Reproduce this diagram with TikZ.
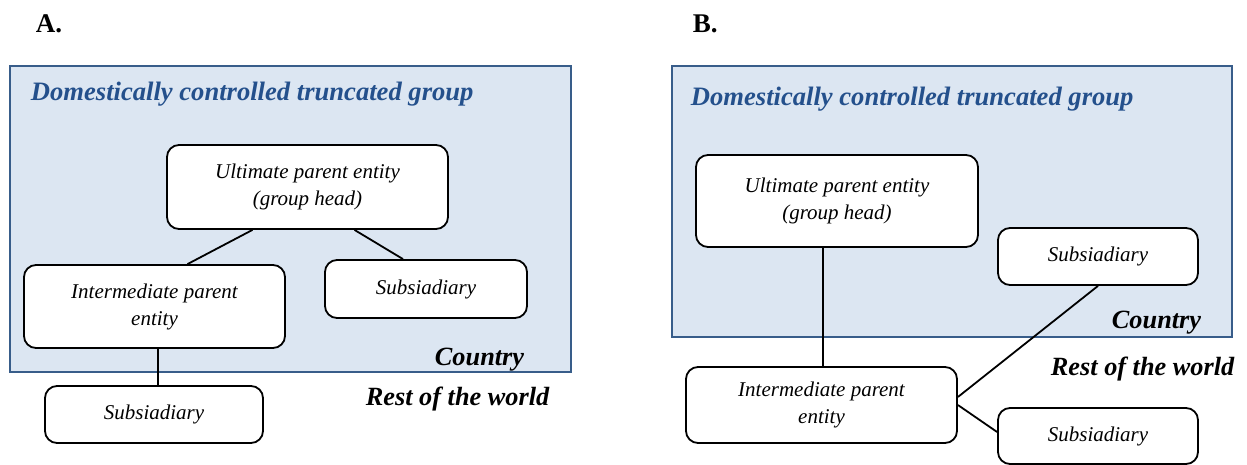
\documentclass[tikz,border=0pt]{standalone}
\usepackage{fontspec}
\setmainfont{Liberation Serif}
\usepackage{xcolor}
\usepackage{tikz}

\definecolor{areafill}{HTML}{DCE6F2}
\definecolor{areadraw}{HTML}{385D8A}
\definecolor{areatext}{HTML}{24508C}

\begin{document}
\begin{tikzpicture}[x=1pt, y=-1pt, line width=1.8pt,
    entity/.style = {draw, rounded corners=12pt, fill=white, align=center, inner sep=0pt,
                     font=\fontsize{21}{27}\selectfont\itshape},
    area/.style = {draw=areadraw, fill=areafill, line width=1.5pt},
    areatitle/.style = {anchor=base west, inner sep=0pt, text=areatext,
                        font=\fontsize{26.6}{30}\selectfont\bfseries\itshape},
    place/.style = {inner sep=0pt, font=\fontsize{26.3}{30}\selectfont\bfseries\itshape},
    panel/.style = {anchor=base west, inner sep=0pt, font=\fontsize{27}{30}\selectfont\bfseries}]
    \useasboundingbox (0,0) rectangle (1247,465);

    % panel A
    \node[panel] at (35,33) {A.};
    \draw[area] (10,66) rectangle (571,372);
    \node[areatitle] at (30,101) {Domestically controlled truncated group};
    \node[place, anchor=base east] at (525,365) {Country};
    \node[place, anchor=base west] at (365,405) {Rest of the world};

    \node[entity, minimum width=281pt, minimum height=84pt] (1) at (307.5,187) {Ultimate parent entity\\(group head)};
    \node[entity, minimum width=261pt, minimum height=83pt] (2) at (154.5,306.5) {Intermediate parent\\entity};
    \node[entity, minimum width=202pt, minimum height=58pt] (3) at (426,289) {Subsiadiary};
    \node[entity, minimum width=218pt, minimum height=57pt] (4) at (154,414.5) {Subsiadiary};
    \draw ([xshift=-55pt]1.south) -- ([xshift=33pt]2.north);
    \draw ([xshift=47pt]1.south) -- ([xshift=-23pt]3.north);
    \draw ([xshift=3.5pt]2.south) -- ([xshift=4pt]4.north);

    % panel B
    \node[panel] at (692,33) {B.};
    \draw[area] (672,66) rectangle (1232,337);
    \node[areatitle] at (690,106) {Domestically controlled truncated group};
    \node[place, anchor=base east] at (1202,328) {Country};
    \node[place, anchor=base west] at (1050,375) {Rest of the world};

    \node[entity, minimum width=282pt, minimum height=92pt] (5) at (837,201) {Ultimate parent entity\\(group head)};
    \node[entity, minimum width=200pt, minimum height=57pt] (6) at (1098,256.5) {Subsiadiary};
    \node[entity, minimum width=271pt, minimum height=76pt] (7) at (821.5,405) {Intermediate parent\\entity};
    \node[entity, minimum width=200pt, minimum height=56pt] (8) at (1098,436) {Subsiadiary};
    \draw ([xshift=-14pt]5.south) -- ([xshift=1.5pt]7.north);
    \draw ([yshift=8pt]7.east) -- (6.south);
    \draw (7.east) -- ([yshift=4pt]8.west);
\end{tikzpicture}
\end{document}
